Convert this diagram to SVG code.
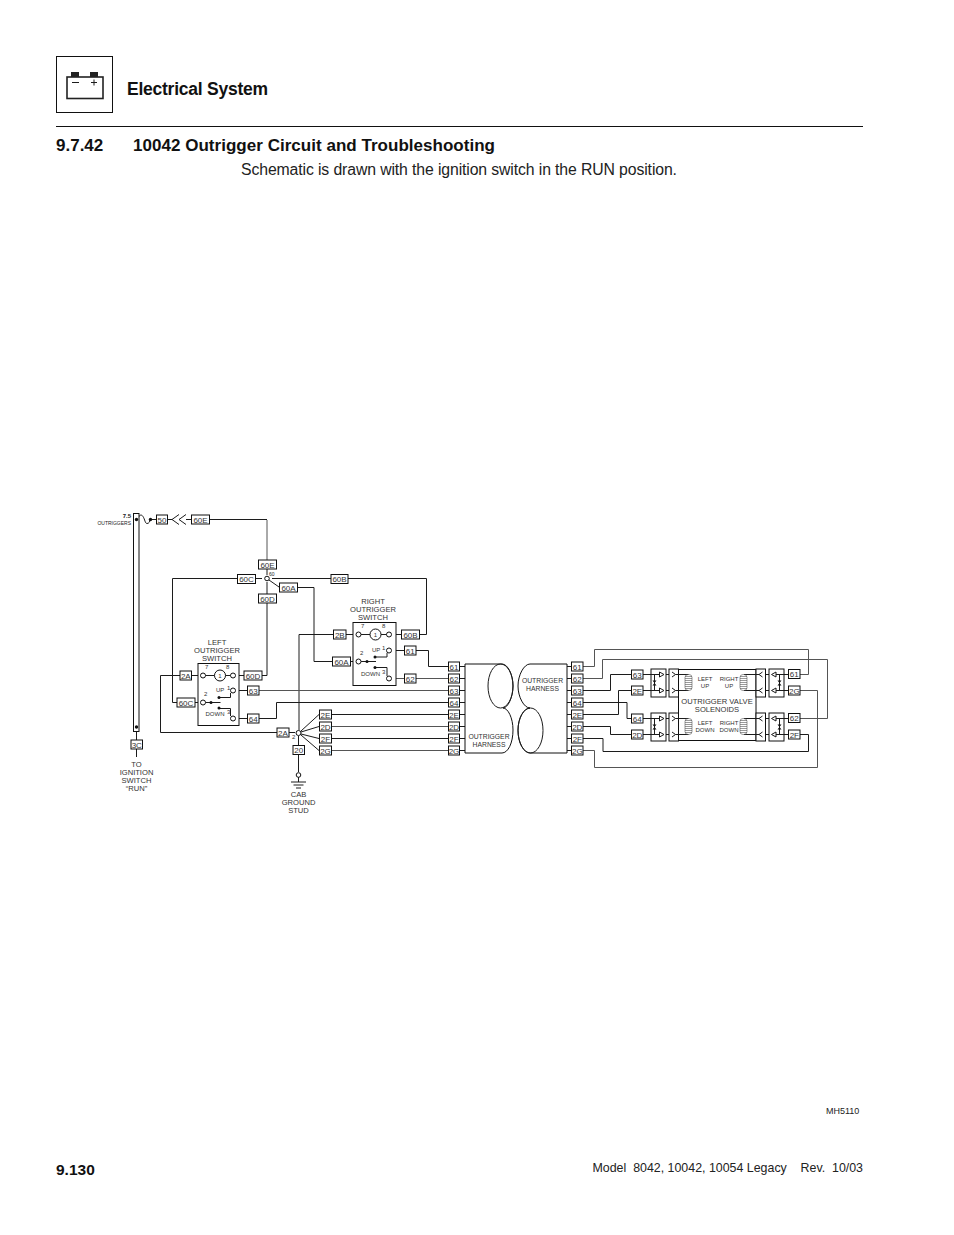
<svg xmlns="http://www.w3.org/2000/svg" width="954" height="1235" viewBox="0 0 954 1235">
<style>
text{font-family:"Liberation Sans",Arial,sans-serif;fill:#222}
.w{fill:none;stroke:#1c1c1c;stroke-width:1}
.g{fill:none;stroke:#555;stroke-width:1}
.b{fill:#fff;stroke:#111;stroke-width:1}
.c{fill:none;stroke:#555;stroke-width:.6}
.l{font-size:8px;text-anchor:middle;fill:#333}
.t{font-size:7.6px;text-anchor:middle;fill:#333}
.n{font-size:6.800px;text-anchor:middle;fill:#333}
.m{font-size:6px;text-anchor:middle;fill:#333}
.s{font-size:6px;fill:#333}
.d{fill:#111;stroke:none}
.h{font-weight:bold;fill:#111}
</style>
<defs>
<g id="coil"><rect class="c" x="-3.500" y="-8" width="7" height="16" rx="3"/><path class="c" d="M-3.500-6h7M-3.500-4h7M-3.500-2h7M-3.500 0h7M-3.500 2h7M-3.500 4h7M-3.500 6h7"/></g>
<g id="dio"><rect class="b" x="0" y="0" width="15" height="28"/><path class="w" d="M3.500 5.500V21.500"/><path class="d" d="M1.500 11.500h4l-2 2.500zM1.500 16.500h4l-2-2.500z"/><path class="w" d="M0 5.500h8.500M0 21.500h8.500"/><path class="w" d="M8.500 3l4.500 2.500-4.500 2.500zM8.500 19l4.500 2.500-4.500 2.500z"/></g>
<g id="dior"><rect class="b" x="0" y="0" width="15" height="28"/><path class="w" d="M10.500 5.500V21.500"/><path class="d" d="M8.500 11.500h4l-2 2.500zM8.500 16.500h4l-2-2.500z"/><path class="w" d="M7 5.500h8M7 21.500h8"/><path class="w" d="M7 3L2.500 5.500 7 8zM7 19L2.500 21.500 7 24z"/></g>
<g id="con"><rect class="b" x="0" y="0" width="9.500" height="28"/><path class="w" d="M3 3l3.500 2.500L3 8M6.500 5.500h3M3 19l3.500 2.500L3 24M6.500 21.500h3"/></g>
<g id="conr"><rect class="b" x="0" y="0" width="9.500" height="28"/><path class="w" d="M6.500 3L3 5.500 6.500 8M3 5.500H0M6.500 19L3 21.500 6.500 24M3 21.500H0"/></g>
</defs>

<g id="header">
<rect x="56.500" y="56.500" width="56" height="56" fill="none" stroke="#111"/>
<rect x="67" y="77" width="36" height="21.500" fill="none" stroke="#222" stroke-width="1.600"/>
<rect x="71" y="72" width="8" height="5" fill="#222"/><rect x="90" y="72" width="8" height="5" fill="#222"/>
<path class="w" d="M72 82.500h7M91 82.500h6M94 79.500v6"/>
<text class="h" x="127" y="95" font-size="17.500" textLength="141">Electrical System</text>
<path d="M56 126.500H863" stroke="#111" fill="none"/>
<text class="h" x="56" y="151" font-size="17">9.7.42</text>
<text class="h" x="133" y="151" font-size="17" textLength="362">10042 Outrigger Circuit and Troubleshooting</text>
<text x="241" y="175" font-size="15.800" textLength="436">Schematic is drawn with the ignition switch in the RUN position.</text>
</g>

<g id="connectors">
<path class="g" d="M267 520V560"/>
<path class="w" d="M168 519.500h4M186 519.500H267"/>
<path class="w" d="M137 519.500c2-4 4-6 6-3s2 7 4 7 3-2 3-4M151 519.500h5"/>
<path class="w" d="M136.500 732V740M136.500 749V757"/>
<path class="w" d="M172.500 702.500V578.500H237M255 578.500H262"/>
<path class="w" d="M272 578.500H331M348 578.500H426.500V634.500H419"/>
<path class="w" d="M267 569V575M267 582V594M267 603V675.500H262"/>
<path class="w" d="M269 580L279 587M297 587.500H314V661.500H332"/>
<path class="w" d="M350 661.500H355M346 634.500H355M333 634.500H299V730"/>
<path class="w" d="M391 634.500H401M392 650.500H404M416 650.500H428.500V666.500H448"/>
<path class="g" d="M392 678.500H404M416 678.500H448"/>
<path class="w" d="M172.500 702.500H177M195 702.500H200"/>
<path class="w" d="M180 675.500H160.500V732.500H277M289 732.500H295"/>
<path class="w" d="M191 675.500H200M236 675.500H244M239 690.500H247"/>
<path class="g" d="M259 690.500H448"/>
<path class="w" d="M239 718.500H247M259 718.500H276.500V702.500H448"/>
<path class="w" d="M301 731L319 714.500M301 732L319 726.500M301 734L319 738.500M301 735L319 750.500"/>
<path class="w" d="M331 714.500H448M331 738.500H448"/>
<path class="g" d="M331 726.500H448M331 750.500H448"/>
<path class="w" d="M298.500 736V745M298.500 754V772"/>
<path class="w" d="M291 782h15M293.500 785h10M296 788h5"/>
<path class="w" d="M459 666.500h6M459 678.500h6M459 690.500h6M459 702.500h6M459 714.500h6M459 726.500h6M459 738.500h6M459 750.500h6"/>
<path class="w" d="M567 666.500h5M567 678.500h5M567 690.500h5M567 702.500h5M567 714.500h5M567 726.500h5M567 738.500h5M567 750.500h5"/>
<path class="g" d="M583 666.500H594.500V649.500H808.500V674.500H800"/>
<path class="g" d="M583 678.500H602.500V659.500H827.500V718.500H800"/>
<path class="w" d="M583 690.500H610.500V674.500H631M583 714.500H618.500V690.500H631M583 702.500H627V718.500H631M583 726.500H610.500V734.500H631"/>
<path class="w" d="M643 674.500H651M643 690.500H651M643 718.500H651M643 734.500H651"/>
<path class="w" d="M583 738.500H603V751.500H808.500V734.500H800"/>
<path class="g" d="M583 750.500H594.500V767.500H817.500V690.500H800"/>
<path class="w" d="M784 674.500H789M784 690.500H789M784 718.500H789M784 734.500H789"/>
<path class="w" d="M666 674.500h3M666 690.500h3M666 718.500h3M666 734.500h3M765 674.500h4M765 690.500h4M765 718.500h4M765 734.500h4"/>
</g>

<g id="fuse">
<rect class="b" x="133.500" y="513.500" width="5.500" height="218"/>
<circle class="d" cx="136.500" cy="519.500" r="1.700"/><circle class="d" cx="150.500" cy="519.500" r="1.700"/><circle class="d" cx="136.500" cy="727" r="1.700"/>
<text x="131" y="518" font-size="6" font-weight="bold" text-anchor="end" fill="#333">7.5</text>
<text x="131" y="525" font-size="5" text-anchor="end" fill="#555">OUTRIGGERS</text>
</g>

<g id="chevrons"><path class="w" d="M186 514.500L179 519.500L186 524.500M179 514.500L172 519.500L179 524.500"/></g>

<g id="left-switch">
<rect class="b" x="198" y="663.500" width="41" height="62"/>
<circle class="b" cx="203" cy="675.500" r="2.500"/><circle class="b" cx="233" cy="675.500" r="2.500"/>
<circle class="b" cx="220" cy="675.500" r="5.500"/><path class="w" d="M205.500 675.500h9M225.500 675.500h5"/>
<text class="s" x="220" y="678" text-anchor="middle">1</text>
<text class="s" x="205" y="669">7</text><text class="s" x="226" y="669">8</text>
<text class="s" x="204" y="696">2</text><text class="s" x="227" y="690">1</text><text class="s" x="227" y="714">3</text>
<text class="s" x="216" y="691.500">UP</text><text class="s" x="205.500" y="716">DOWN</text>
<circle class="b" cx="203" cy="702.500" r="2.500"/><circle class="b" cx="233" cy="690.500" r="2.500"/><circle class="b" cx="233" cy="718.500" r="2.500"/>
<path class="w" d="M205.500 702.500h15M219 697.500h11.500V693M219 708.500h11.500V716"/>
<circle class="d" cx="211" cy="702.500" r="1.500"/><circle class="d" cx="219" cy="697.500" r="1.500"/><circle class="d" cx="219" cy="708" r="1.500"/>
<text class="t" x="217" y="645">LEFT</text><text class="t" x="217" y="653">OUTRIGGER</text><text class="t" x="217" y="661">SWITCH</text>
</g>

<g id="right-switch">
<rect class="b" x="353" y="622.500" width="43" height="63"/>
<circle class="b" cx="358.500" cy="634.500" r="2.500"/><circle class="b" cx="389" cy="634.500" r="2.500"/>
<circle class="b" cx="375.500" cy="634.500" r="5.500"/><path class="w" d="M361 634.500h9M381 634.500h5.500"/>
<text class="s" x="375.500" y="637" text-anchor="middle">1</text>
<text class="s" x="361" y="628">7</text><text class="s" x="382" y="628">8</text>
<text class="s" x="360" y="655">2</text><text class="s" x="382" y="650">1</text><text class="s" x="382" y="674">3</text>
<text class="s" x="372" y="651.500">UP</text><text class="s" x="361" y="676">DOWN</text>
<circle class="b" cx="358.500" cy="661.500" r="2.500"/><circle class="b" cx="389" cy="650.500" r="2.500"/><circle class="b" cx="389" cy="678.500" r="2.500"/>
<path class="w" d="M361 661.500h15M375 657h12V653M375 667.500h12V676"/>
<circle class="d" cx="367" cy="661.500" r="1.500"/><circle class="d" cx="375" cy="657" r="1.500"/><circle class="d" cx="375" cy="667.500" r="1.500"/>
<text class="t" x="373" y="604">RIGHT</text><text class="t" x="373" y="612">OUTRIGGER</text><text class="t" x="373" y="620">SWITCH</text>
</g>

<g id="splices">
<circle class="b" cx="267" cy="578.500" r="2.300"/>
<text x="269" y="575.500" style="font-size:5px">60</text>
<circle class="b" cx="298.500" cy="733" r="2.500"/>
<text class="s" x="292" y="739">2</text>
<circle class="b" cx="298.500" cy="775" r="2.300"/>
<path class="w" d="M298.500 777V782"/>
</g>

<g id="harness-left">
<path class="b" d="M465 664H502C508 664 513 675 513 686C513 697 508 708 503 708C508 708 513 718 513 730C513 743 508 753 502 753H465Z"/>
<ellipse class="w" cx="500.500" cy="686" rx="12.500" ry="22"/>
<text class="n" x="489" y="739">OUTRIGGER</text><text class="n" x="489" y="747">HARNESS</text>
</g>
<g id="harness-right">
<path class="b" d="M567 664H530C524 664 518 675 518 686C518 697 524 708 530 708C524 708 518 718 518 730C518 743 524 753 530 753H567Z"/>
<ellipse class="w" cx="530.500" cy="730.500" rx="12.500" ry="22.500"/>
<text class="n" x="542.500" y="683">OUTRIGGER</text><text class="n" x="542.500" y="690.500">HARNESS</text>
</g>

<g id="solenoids">
<rect class="b" x="678.500" y="669.500" width="77.500" height="71"/>
<use href="#dio" x="651" y="669"/><use href="#dio" x="651" y="713"/>
<use href="#con" x="669" y="669"/><use href="#con" x="669" y="713"/>
<use href="#conr" x="756" y="669"/><use href="#conr" x="756" y="713"/>
<use href="#dior" x="769" y="669"/><use href="#dior" x="769" y="713"/>
<path class="w" d="M678.500 674.500H688.500M678.500 690.500H688.500M678.500 718.500H688.500M678.500 734.500H688.500M756 674.500H744M756 690.500H744M756 718.500H744M756 734.500H744"/>
<use href="#coil" x="688.500" y="682.500"/><use href="#coil" x="688.500" y="726.500"/>
<use href="#coil" x="743.500" y="682.500"/><use href="#coil" x="743.500" y="726.500"/>
<text class="m" x="705" y="681">LEFT</text><text class="m" x="705" y="687.500">UP</text>
<text class="m" x="729" y="681">RIGHT</text><text class="m" x="729" y="687.500">UP</text>
<text class="m" x="705" y="725">LEFT</text><text class="m" x="705" y="731.500">DOWN</text>
<text class="m" x="729" y="725">RIGHT</text><text class="m" x="729" y="731.500">DOWN</text>
<text class="t" x="717" y="704">OUTRIGGER VALVE</text>
<text class="t" x="717" y="712">SOLENOIDS</text>
</g>

<g id="wire-labels">
<rect class="b" x="156.500" y="515" width="11" height="9"/><text class="l" x="162" y="522.500">50</text>
<rect class="b" x="191.500" y="515" width="18" height="9"/><text class="l" x="200.500" y="522.500">60E</text>
<rect class="b" x="258.500" y="560" width="18" height="9"/><text class="l" x="267.500" y="567.500">60E</text>
<rect class="b" x="237.500" y="574.500" width="18" height="9"/><text class="l" x="246.500" y="582">60C</text>
<rect class="b" x="258.500" y="594" width="18" height="9"/><text class="l" x="267.500" y="601.500">60D</text>
<rect class="b" x="279.500" y="583" width="18" height="9"/><text class="l" x="288.500" y="590.500">60A</text>
<rect class="b" x="331" y="574.500" width="17" height="9"/><text class="l" x="339.500" y="582">60B</text>
<rect class="b" x="401.500" y="630" width="18" height="9"/><text class="l" x="410.500" y="637.500">60B</text>
<rect class="b" x="333.500" y="630" width="12.500" height="9"/><text class="l" x="339.800" y="637.500">2B</text>
<rect class="b" x="332.500" y="657" width="18" height="9"/><text class="l" x="341.500" y="664.500">60A</text>
<rect class="b" x="404.500" y="646" width="11.500" height="9"/><text class="l" x="410.300" y="653.500">61</text>
<rect class="b" x="404.500" y="674" width="11.500" height="9"/><text class="l" x="410.300" y="681.500">62</text>
<rect class="b" x="180" y="671" width="11.500" height="9"/><text class="l" x="185.800" y="678.500">2A</text>
<rect class="b" x="177" y="698" width="18" height="9"/><text class="l" x="186" y="705.500">60C</text>
<rect class="b" x="244" y="671" width="18" height="9"/><text class="l" x="253" y="678.500">60D</text>
<rect class="b" x="247.500" y="686" width="11.500" height="9"/><text class="l" x="253.300" y="693.500">63</text>
<rect class="b" x="247.500" y="714" width="11.500" height="9"/><text class="l" x="253.300" y="721.500">64</text>
<rect class="b" x="277" y="728" width="12" height="9"/><text class="l" x="283" y="735.500">2A</text>
<rect class="b" x="293" y="745.500" width="11.500" height="9"/><text class="l" x="298.800" y="753">20</text>
<rect class="b" x="131" y="740" width="11.500" height="9"/><text class="l" x="136.800" y="747.500">3C</text>
<rect class="b" x="319.500" y="710" width="12" height="9"/><text class="l" x="325.500" y="717.500">2E</text>
<rect class="b" x="319.500" y="722" width="12" height="9"/><text class="l" x="325.500" y="729.500">2D</text>
<rect class="b" x="319.500" y="734" width="12" height="9"/><text class="l" x="325.500" y="741.500">2F</text>
<rect class="b" x="319.500" y="746" width="12" height="9"/><text class="l" x="325.500" y="753.500">2G</text>
<g id="left-harness-labels">
<rect class="b" x="448.500" y="662" width="11" height="9"/><text class="l" x="454" y="669.500">61</text>
<rect class="b" x="448.500" y="674" width="11" height="9"/><text class="l" x="454" y="681.500">62</text>
<rect class="b" x="448.500" y="686" width="11" height="9"/><text class="l" x="454" y="693.500">63</text>
<rect class="b" x="448.500" y="698" width="11" height="9"/><text class="l" x="454" y="705.500">64</text>
<rect class="b" x="448.500" y="710" width="11" height="9"/><text class="l" x="454" y="717.500">2E</text>
<rect class="b" x="448.500" y="722" width="11" height="9"/><text class="l" x="454" y="729.500">2D</text>
<rect class="b" x="448.500" y="734" width="11" height="9"/><text class="l" x="454" y="741.500">2F</text>
<rect class="b" x="448.500" y="746" width="11" height="9"/><text class="l" x="454" y="753.500">2G</text>
</g>
<g id="right-harness-labels">
<rect class="b" x="571.500" y="662" width="11.500" height="9"/><text class="l" x="577.300" y="669.500">61</text>
<rect class="b" x="571.500" y="674" width="11.500" height="9"/><text class="l" x="577.300" y="681.500">62</text>
<rect class="b" x="571.500" y="686" width="11.500" height="9"/><text class="l" x="577.300" y="693.500">63</text>
<rect class="b" x="571.500" y="698" width="11.500" height="9"/><text class="l" x="577.300" y="705.500">64</text>
<rect class="b" x="571.500" y="710" width="11.500" height="9"/><text class="l" x="577.300" y="717.500">2E</text>
<rect class="b" x="571.500" y="722" width="11.500" height="9"/><text class="l" x="577.300" y="729.500">2D</text>
<rect class="b" x="571.500" y="734" width="11.500" height="9"/><text class="l" x="577.300" y="741.500">2F</text>
<rect class="b" x="571.500" y="746" width="11.500" height="9"/><text class="l" x="577.300" y="753.500">2G</text>
</g>
<rect class="b" x="631.500" y="670" width="11.500" height="9"/><text class="l" x="637.300" y="677.500">63</text>
<rect class="b" x="631.500" y="686" width="11.500" height="9"/><text class="l" x="637.300" y="693.500">2E</text>
<rect class="b" x="631.500" y="714" width="11.500" height="9"/><text class="l" x="637.300" y="721.500">64</text>
<rect class="b" x="631.500" y="730" width="11.500" height="9"/><text class="l" x="637.300" y="737.500">2D</text>
<rect class="b" x="788.500" y="669.500" width="11.500" height="9"/><text class="l" x="794.300" y="677">61</text>
<rect class="b" x="788.500" y="686" width="11.500" height="9"/><text class="l" x="794.300" y="693.500">2G</text>
<rect class="b" x="788.500" y="713.500" width="11.500" height="9"/><text class="l" x="794.300" y="721">62</text>
<rect class="b" x="788.500" y="730" width="11.500" height="9"/><text class="l" x="794.300" y="737.500">2F</text>
</g>

<g id="captions">
<text class="t" x="136.500" y="767">TO</text><text class="t" x="136.500" y="775">IGNITION</text><text class="t" x="136.500" y="783">SWITCH</text><text class="t" x="136.500" y="791">“RUN”</text>
<text class="t" x="298.500" y="797">CAB</text><text class="t" x="298.500" y="805">GROUND</text><text class="t" x="298.500" y="813">STUD</text>
</g>

<g id="footer">
<text x="826" y="1114" font-size="9">MH5110</text>
<text class="h" x="56" y="1175" font-size="15.500">9.130</text>
<text x="863" y="1172" font-size="12.400" text-anchor="end" xml:space="preserve">Model  8042, 10042, 10054 Legacy    Rev.  10/03</text>
</g>
</svg>
